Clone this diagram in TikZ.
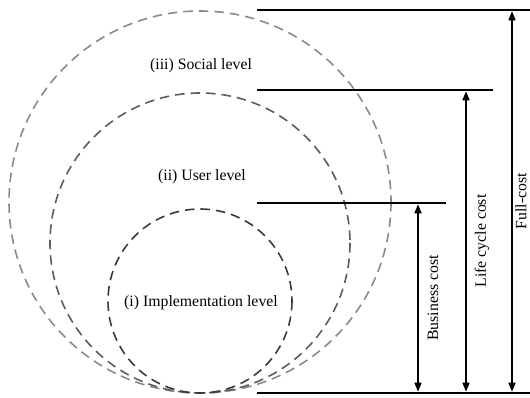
\documentclass[tikz,border=0pt]{standalone}
\usepackage{fontspec}
\setmainfont{Liberation Serif}
\usepackage{xcolor}
\usetikzlibrary{arrows.meta,calc}
\definecolor{ringlight}{HTML}{8A8A8A}
\definecolor{ringmid}{HTML}{5C5C5C}
\definecolor{ringdark}{HTML}{3A3A3A}

\begin{document}
\begin{tikzpicture}[
    x=1pt,y=-1pt,
    font=\fontsize{15.8}{19}\selectfont,
    ring/.style={line width=1.6pt,dash pattern=on 9.5pt off 6pt},
    bound/.style={line width=2.8pt},
    span/.style={{Triangle[length=9pt,width=7pt]}-{Triangle[length=9pt,width=7pt]},
      line width=1.6pt,shorten <=1.3pt,shorten >=1.3pt},
    spanlabel/.style={rotate=90,inner sep=0pt},
  ]
    \useasboundingbox (0,0) rectangle (530,398);

    % the three levels
    \draw[ring,ringlight] (200,202) circle[radius=191];
    \draw[ring,ringmid] (200,243) circle[radius=150];
    \draw[ring,ringdark] (200,301) circle[radius=92];
    \node (social) at (201,66) {(iii) Social level};
    \node (user) at (202,177) {(ii) User level};
    \node (impl) at (201,303) {(i) Implementation level};

    % cost bounds
    \foreach \name/\y/\xe in {full/10/530,life/90/493,biz/203/446,base/393/530} {
      \coordinate (\name-l) at (257,\y);
      \coordinate (\name-r) at (\xe,\y);
      \draw[bound] (\name-l) -- (\name-r);
    }
    \foreach \name/\x in {full/512,life/466,biz/418} {
      \coordinate (\name-a) at (\x,0 |- \name-l);
      \coordinate (\name-b) at (\name-a |- base-l);
      \draw[span] (\name-a) -- (\name-b);
    }
    \node[spanlabel] (biz-t) at (433,298) {Business cost};
    \node[spanlabel] (life-t) at (482,241) {Life cycle cost};
    \node[spanlabel] (full-t) at (521,201) {Full-cost};
  \end{tikzpicture}
\end{document}
